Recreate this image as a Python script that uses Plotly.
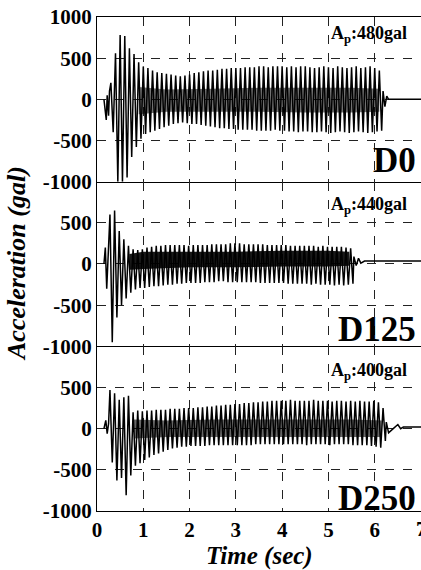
import plotly.graph_objects as go

# ---------------- data ----------------
x_tick_vals = [0, 1, 2, 3, 4, 5, 6, 7]
y_ticks_top = [1000, 500, 0, -500, -1000]
y_ticks_lower = [500, 0, -500, -1000]
half_period = 0.05  # spacing between a positive and the following negative peak (s)

panel_names = ["D0", "D125", "D250"]
peak_labels = ["480gal", "440gal", "400gal"]

# D0 : dominant-cycle peaks, one pos/neg pair every 0.1 s starting at d0_start
d0_start = 0.30
d0_pos = [200, 560, 780, 770, 620, 550, 450, 400, 380, 350,
          330, 320, 310, 300, 290, 280, 290, 300, 320, 330,
          340, 350, 350, 360, 370, 370, 380, 380, 380, 390,
          390, 390, 400, 400, 390, 400, 400, 400, 390, 400,
          390, 400, 400, 390, 380, 390, 400, 390, 380, 400,
          390, 380, 390, 400, 380, 390, 400, 380, 350]
d0_neg = [-400, -1000, -1000, -950, -700, -580, -480, -420, -400, -380,
          -360, -340, -320, -300, -290, -280, -290, -300, -300, -310,
          -320, -330, -340, -350, -350, -360, -360, -370, -370, -370,
          -370, -380, -380, -380, -380, -370, -380, -380, -390, -390,
          -400, -390, -390, -400, -400, -390, -400, -410, -400, -390,
          -400, -410, -400, -390, -400, -410, -400, -390, -380]
d0_lead_t = [0.15, 0.20, 0.22, 0.25, 0.27]
d0_lead_v = [0, -250, 50, -200, 100]
d0_tail_t = [6.18, 6.22, 6.26, 6.30, 7.00]
d0_tail_v = [100, -90, 40, 0, 0]
# dense high-frequency core of the record (time, upper, lower)
d0_core_t = [0.9, 1.5, 2.5, 3.5, 4.5, 5.5, 6.1]
d0_core_hi = [150, 120, 130, 140, 140, 140, 130]
d0_core_lo = [-180, -150, -150, -150, -160, -160, -150]

# D125
d125_start = 0.28
d125_pos = [600, 650, 400, 300, 220, 180, 170, 180, 200, 210,
            220, 220, 230, 230, 230, 230, 230, 220, 230, 230,
            230, 230, 240, 240, 240, 240, 250, 250, 250, 240,
            240, 240, 240, 240, 230, 230, 230, 230, 230, 220,
            220, 220, 220, 220, 220, 210, 220, 210, 210, 210,
            210, 200, 190]
d125_neg = [-950, -650, -500, -420, -350, -310, -290, -290, -280, -270,
            -270, -260, -250, -250, -240, -240, -230, -230, -230, -230,
            -220, -220, -220, -210, -210, -220, -220, -220, -220, -220,
            -220, -220, -230, -230, -230, -230, -230, -230, -240, -240,
            -240, -240, -240, -250, -240, -250, -250, -250, -260, -250,
            -260, -250, -240]
d125_lead_t = [0.15, 0.18, 0.21, 0.24]
d125_lead_v = [0, 200, -300, 60]
d125_tail_t = [5.55, 5.60, 5.65, 5.70, 5.78, 7.00]
d125_tail_v = [90, -20, 70, 10, 35, 35]
d125_core_t = [0.7, 1.0, 2.0, 3.0, 4.0, 5.0, 5.45]
d125_core_hi = [120, 150, 150, 150, 160, 160, 150]
d125_core_lo = [-70, -60, -40, -40, -30, -30, -20]

# D250
d250_start = 0.28
d250_pos = [470, 430, 350, 380, 400, 200, 220, 210, 220, 220,
            230, 230, 230, 240, 240, 240, 250, 250, 250, 260,
            260, 270, 270, 280, 280, 290, 290, 300, 300, 310,
            310, 320, 320, 330, 330, 340, 340, 340, 340, 350,
            340, 340, 340, 340, 350, 340, 340, 340, 330, 340,
            340, 330, 340, 330, 340, 330, 330, 340, 320, 250]
d250_neg = [-410, -630, -600, -810, -570, -450, -420, -380, -350, -320,
            -300, -280, -260, -240, -230, -220, -220, -210, -210, -210,
            -210, -200, -200, -200, -200, -200, -200, -200, -200, -200,
            -200, -190, -190, -190, -190, -190, -190, -190, -190, -190,
            -190, -190, -200, -190, -190, -190, -190, -200, -190, -190,
            -190, -190, -200, -200, -200, -200, -210, -220, -230, -150]
d250_lead_t = [0.15, 0.19, 0.22, 0.25]
d250_lead_v = [0, 100, -60, 60]
d250_tail_t = [6.25, 6.30, 6.40, 6.50, 6.56, 6.62, 7.00]
d250_tail_v = [80, -50, 0, 50, 0, 20, 20]
d250_core_t = [0.8, 1.5, 2.5, 3.5, 4.5, 5.5, 6.15]
d250_core_hi = [110, 100, 110, 110, 110, 110, 100]
d250_core_lo = [-120, -100, -100, -100, -100, -100, -100]

# ---------------- build series ----------------
def build(start, pos, neg, lead_t, lead_v, tail_t, tail_v):
    t, v = list(lead_t), list(lead_v)
    for i, (p, n) in enumerate(zip(pos, neg)):
        tp = start + 2 * half_period * i
        t += [tp, tp + half_period]
        v += [p, n]
    t += tail_t
    v += tail_v
    return t, v

series = [
    build(d0_start, d0_pos, d0_neg, d0_lead_t, d0_lead_v, d0_tail_t, d0_tail_v),
    build(d125_start, d125_pos, d125_neg, d125_lead_t, d125_lead_v, d125_tail_t, d125_tail_v),
    build(d250_start, d250_pos, d250_neg, d250_lead_t, d250_lead_v, d250_tail_t, d250_tail_v),
]
cores = [
    (d0_core_t, d0_core_hi, d0_core_lo, 0.55),
    (d125_core_t, d125_core_hi, d125_core_lo, 0.9),
    (d250_core_t, d250_core_hi, d250_core_lo, 0.6),
]

FONT = "Liberation Serif"
fig = go.Figure()
domains = [[2 / 3, 1.0], [1 / 3, 2 / 3], [0.0, 1 / 3]]
ap_y = [790, 710, 700]
d_y = [-745, -800, -850]

for k, (t, v) in enumerate(series):
    xa = "x" if k == 0 else f"x{k + 1}"
    ya = "y" if k == 0 else f"y{k + 1}"
    ct, chi, clo, alpha = cores[k]
    fig.add_trace(go.Scatter(x=list(ct) + list(ct)[::-1], y=list(chi) + list(clo)[::-1],
                             mode="lines", fill="toself", xaxis=xa, yaxis=ya,
                             fillcolor=f"rgba(0,0,0,{alpha})", line=dict(width=0),
                             showlegend=False, hoverinfo="skip"))
    fig.add_trace(go.Scatter(x=t, y=v, mode="lines", xaxis=xa, yaxis=ya,
                             line=dict(color="black", width=1.5), showlegend=False,
                             hoverinfo="skip"))
    xkey = "xaxis" if k == 0 else f"xaxis{k + 1}"
    ykey = "yaxis" if k == 0 else f"yaxis{k + 1}"
    ticks = y_ticks_top if k == 0 else y_ticks_lower
    fig.layout[xkey] = dict(
        range=[0, 7], anchor=ya, domain=[0, 1],
        tickvals=x_tick_vals,
        ticktext=[str(x) for x in x_tick_vals],
        showticklabels=(k == 2),
        showgrid=True, gridcolor="#222", griddash="dash", gridwidth=1,
        zeroline=False, showline=True, linecolor="black", linewidth=1,
        mirror=(k == 0),
        ticks="", ticklabelstandoff=0,
        tickfont=dict(family=FONT, size=21, color="black", weight="bold"),
        matches="x" if k > 0 else None,
    )
    fig.layout[ykey] = dict(
        range=[-1000, 1000], anchor=xa, domain=domains[k],
        tickvals=ticks, ticktext=[str(x) for x in ticks],
        showgrid=True, gridcolor="#222", griddash="dash", gridwidth=1,
        zeroline=False, showline=True, linecolor="black", linewidth=1, mirror=True,
        ticks="",
        tickfont=dict(family=FONT, size=21, color="black", weight="bold"),
    )
    fig.add_annotation(x=6.74, y=ap_y[k], xref=xa, yref=ya, xanchor="right", yanchor="middle",
                       text=f"<b>A<sub>p</sub>:{peak_labels[k]}</b>", showarrow=False,
                       font=dict(family=FONT, size=18, color="black"))
    fig.add_annotation(x=6.93, y=d_y[k], xref=xa, yref=ya, xanchor="right", yanchor="middle",
                       text=f"<b>{panel_names[k]}</b>", showarrow=False,
                       font=dict(family=FONT, size=35, color="black"))

# the last tick label "7" sits on the right edge of the page (partly cut in the reference)
fig.add_annotation(x=x_tick_vals[-1], y=-1000, xref="x3", yref="y3", xanchor="center", yanchor="top",
                   yshift=-4, text="<b>7</b>", showarrow=False,
                   font=dict(family=FONT, size=21, color="black"))
fig.add_annotation(x=0.5, y=-0.092, xref="paper", yref="paper", xanchor="center", yanchor="middle",
                   text="<b><i>Time (sec)</i></b>", showarrow=False,
                   font=dict(family=FONT, size=25, color="black"))
fig.add_annotation(x=-0.25, y=0.5, xref="paper", yref="paper", xanchor="center", yanchor="middle",
                   text="<b><i>Acceleration (gal)</i></b>", showarrow=False, textangle=-90,
                   font=dict(family=FONT, size=26, color="black"))

fig.update_layout(width=421, height=570, margin=dict(l=97, r=0, t=17, b=59),
                  paper_bgcolor="white", plot_bgcolor="white")
fig.write_html("out.html", config={"displayModeBar": False},
               post_script="document.body.style.margin='0';document.body.style.padding='0';")
